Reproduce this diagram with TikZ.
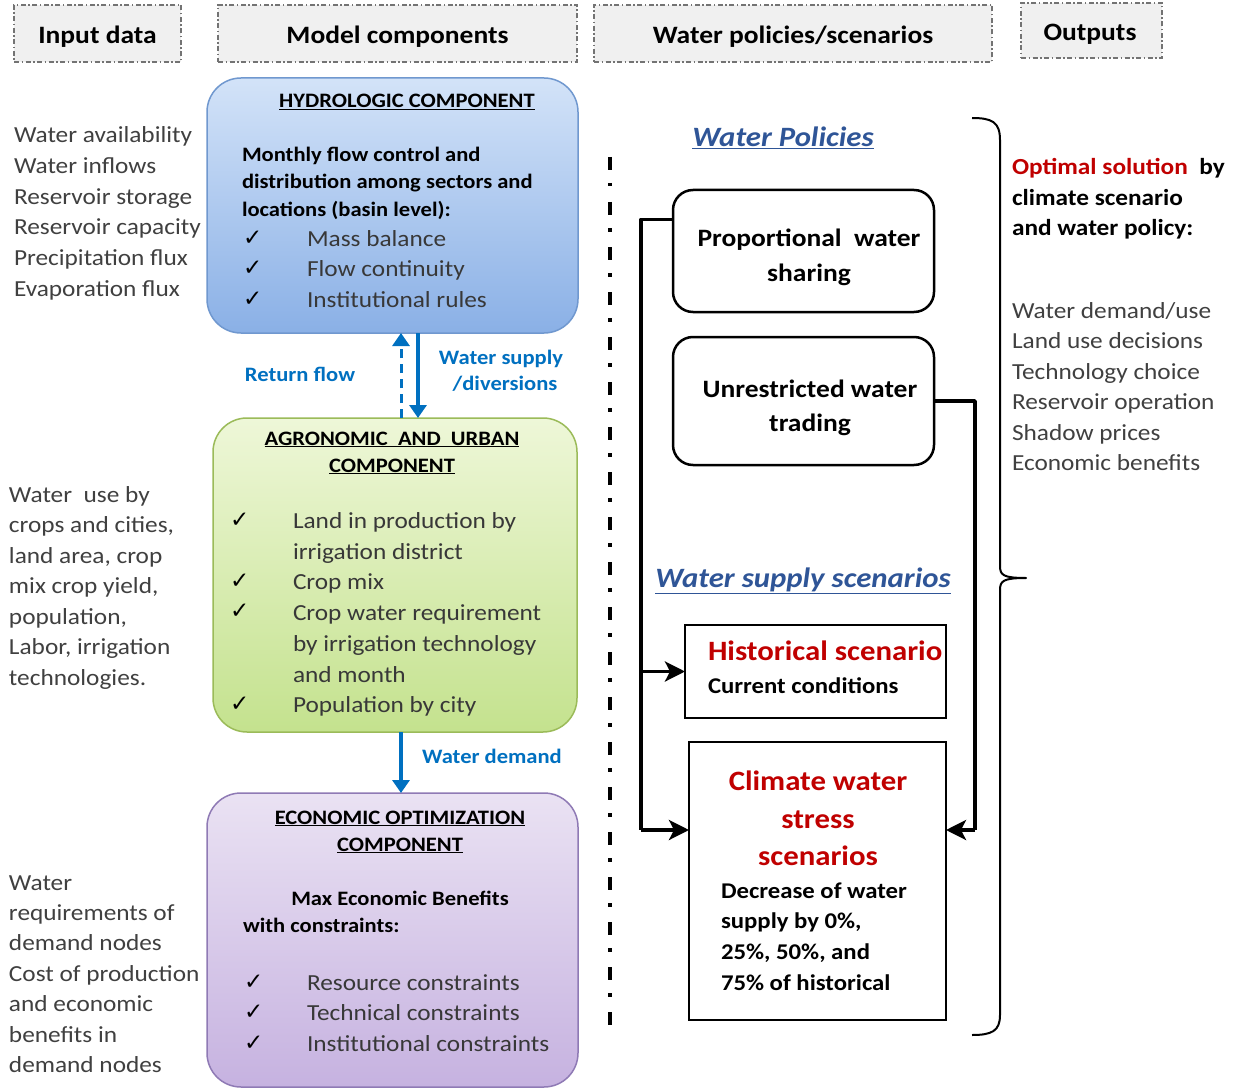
\documentclass[tikz,border=0pt]{standalone}
\usepackage{fontspec}
\setmainfont{Carlito}[FakeStretch=1.1]
\newfontfamily\chk{DejaVu Sans}
\usetikzlibrary{arrows.meta,calc}
\definecolor{txtgray}{HTML}{404040}
\definecolor{itemgray}{HTML}{383838}
\definecolor{flowblue}{HTML}{0070C0}
\definecolor{titleblue}{HTML}{2F5597}
\definecolor{scred}{HTML}{C00000}
\definecolor{hydtop}{HTML}{D3E3F8}
\definecolor{hydbot}{HTML}{8AB0E6}
\definecolor{hydline}{HTML}{7098CF}
\definecolor{agrtop}{HTML}{EEF7D8}
\definecolor{agrbot}{HTML}{C4E28E}
\definecolor{agrline}{HTML}{9BBB59}
\definecolor{ecotop}{HTML}{EAE2F3}
\definecolor{ecobot}{HTML}{C6B2E0}
\definecolor{ecoline}{HTML}{8F7AB5}
\newcommand\fsz[1]{\fontsize{#1}{#1}\selectfont}
\tikzset{
  hdrbox/.style={draw=black!55, line width=1.3pt, dash pattern=on 5pt off 2.5pt on 1.5pt off 2.5pt, fill=black!6},
  hdrtxt/.style={font=\fsz{25}\bfseries, anchor=base},
  lc/.style={font=\fsz{23}, text=txtgray, anchor=base west},
  itm/.style={font=\fsz{23}, text=itemgray, anchor=base west},
  bodyb/.style={font=\fsz{20.5}\bfseries, anchor=base west},
  ttl/.style={font=\fsz{20.5}\bfseries, anchor=base},
  ck/.style={font=\chk\fsz{23}, anchor=base west},
  flowlbl/.style={font=\fsz{20.5}\bfseries, text=flowblue, anchor=base},
  bluearrow/.style={draw=flowblue, line width=4.5pt, -{Triangle[length=13pt,width=17pt]}},
  polbox/.style={draw=black, line width=2.5pt, rounded corners=20pt},
  scbox/.style={draw=black, line width=2pt},
  conn/.style={draw=black, line width=3.5pt},
  carrow/.style={conn, -{Stealth[length=20pt,width=20pt,inset=5pt]}},
  bigb/.style={font=\fsz{25}\bfseries, anchor=base},
  sec/.style={font=\fsz{28}\bfseries\itshape, text=titleblue, anchor=base},
  outb/.style={font=\fsz{23}\bfseries, anchor=base west},
  redb/.style={font=\fsz{28}\bfseries, text=scred, anchor=base},
  scb/.style={font=\fsz{22.5}\bfseries, anchor=base west}
}
\begin{document}
\begin{tikzpicture}[x=1pt,y=-1pt, every node/.style={inner sep=0pt, outer sep=0pt}]
\useasboundingbox[fill=white] (0,0) rectangle (1235,1089);

% headers
\node[hdrbox, minimum width=167pt, minimum height=57pt] (hIn) at (97.5,33.5) {};
\node[hdrbox, minimum width=359pt, minimum height=57pt] (hMod) at (397.5,33.5) {};
\node[hdrbox, minimum width=398pt, minimum height=57pt] (hPol) at (793,33.5) {};
\node[hdrbox, minimum width=141pt, minimum height=55pt] (hOut) at (1091.5,30.5) {};
\node[hdrtxt] (tIn) at (97.5,43.5) {Input data};
\node[hdrtxt] (tMod) at (397.5,43.5) {Model components};
\node[hdrtxt] (tPol) at (793,43.5) {Water policies/scenarios};
\node[hdrtxt] (tOut) at (1090,40.5) {Outputs};

% input data columns
\foreach \t [count=\i from 0] in {Water availability, Water inflows, Reservoir storage, Reservoir capacity, Precipitation flux, Evaporation flux}
  \node[lc] (inA\i) at (14, 143+\i*30.6) {\t};
\foreach \t [count=\i from 0] in {Water\ \ use by, {crops and cities,}, {land area, crop}, {mix crop yield,}, {population,}, {Labor, irrigation}, technologies.}
  \node[lc] (inB\i) at (9, 502+\i*30.5) {\t};
\foreach \t [count=\i from 0] in {Water, requirements of, demand nodes, Cost of production, and economic, benefits in, demand nodes}
  \node[lc] (inC\i) at (9, 890+\i*30.4) {\t};

% hydrologic component
\node[draw=hydline, line width=1.5pt, rounded corners=34pt, top color=hydtop, bottom color=hydbot, minimum width=371pt, minimum height=255pt] (hyd) at (392.5,205.5) {};
\node[ttl] (hydT) at (407,108) {\underline{HYDROLOGIC COMPONENT}};
\node[bodyb] (hydM1) at (242,162) {Monthly flow control and};
\node[bodyb] (hydM2) at (242,189) {distribution among sectors and};
\node[bodyb] (hydM3) at (242,216) {locations (basin level):};
\foreach \t [count=\i from 0] in {Mass balance, Flow continuity, Institutional rules}{
  \node[ck] (hydC\i) at (243, 245+\i*30.5) {✓};
  \node[itm] (hydI\i) at (307, 246+\i*30.5) {\t};
}

% agronomic component
\node[draw=agrline, line width=1.5pt, rounded corners=34pt, top color=agrtop, bottom color=agrbot, minimum width=364pt, minimum height=314pt] (agr) at (395,575) {};
\node[ttl] (agrT1) at (392,445) {\underline{AGRONOMIC\ \ AND\ \ URBAN}};
\node[ttl] (agrT2) at (392,472) {\underline{COMPONENT}};
\foreach \y [count=\i from 0] in {527,588,618,711}
  \node[ck] (agrC\i) at (230,\y) {✓};
\foreach \t [count=\i from 0] in {Land in production by, irrigation district, Crop mix, Crop water requirement, by irrigation technology, and month, Population by city}
  \node[itm] (agrI\i) at (293, 528.5+\i*30.7) {\t};

% economic component
\node[draw=ecoline, line width=1.5pt, rounded corners=34pt, top color=ecotop, bottom color=ecobot, minimum width=371pt, minimum height=294pt] (eco) at (392.5,940) {};
\node[ttl] (ecoT1) at (400,824) {\underline{ECONOMIC OPTIMIZATION}};
\node[ttl] (ecoT2) at (400,851) {\underline{COMPONENT}};
\node[ttl] (ecoM1) at (400,905) {Max Economic Benefits};
\node[bodyb] (ecoM2) at (243,932) {with constraints:};
\foreach \t [count=\i from 0] in {Resource constraints, Technical constraints, Institutional constraints}{
  \node[ck] (ecoC\i) at (244, 989+\i*30.5) {✓};
  \node[itm] (ecoI\i) at (307, 990+\i*30.5) {\t};
}

% flows between components
\draw[bluearrow] (418,0 |- hyd.south) -- (418,0 |- agr.north);
\draw[bluearrow, line width=3pt, dash pattern=on 9pt off 6pt] (401,0 |- agr.north) -- (401,0 |- hyd.south);
\draw[bluearrow] (401,0 |- agr.south) -- (401,0 |- eco.north);
\node[flowlbl] (lRet) at (300,381) {Return flow};
\node[flowlbl] (lSup1) at (501,364) {Water supply};
\node[flowlbl] (lSup2) at (505,390) {/diversions};
\node[flowlbl] (lDem) at (492,763) {Water demand};

% separator
\draw[line width=4pt, dash pattern=on 13pt off 13pt on 3.5pt off 15.5pt] (610,157) -- (610,1025);

% water policies
\node[sec] (secPol) at (783,147) {\underline{Water Policies}};
\node[polbox, minimum width=261pt, minimum height=122pt] (prop) at (803.5,251) {};
\node[bigb] (propT1) at (809,246.5) {Proportional\ \ water};
\node[bigb] (propT2) at (809,281.5) {sharing};
\node[polbox, minimum width=261pt, minimum height=128pt] (unr) at (803.5,401) {};
\node[bigb] (unrT1) at (810,397) {Unrestricted water};
\node[bigb] (unrT2) at (810,431) {trading};

% water supply scenarios
\node[sec] (secSup) at (803,587) {\underline{Water supply scenarios}};
\node[scbox, minimum width=261pt, minimum height=93pt] (hist) at (815.5,671.5) {};
\node[redb, anchor=base west] (histT) at (708,660) {Historical scenario};
\node[scb] (histS) at (708,693) {Current conditions};
\node[scbox, minimum width=257pt, minimum height=278pt] (clim) at (817.5,881) {};
\node[redb] (climT1) at (818,790) {Climate water};
\node[redb] (climT2) at (818,828) {stress};
\node[redb] (climT3) at (818,865) {scenarios};
\foreach \t [count=\i from 0] in {Decrease of water, {supply by 0\%,}, {25\%, 50\%, and}, 75\% of historical}
  \node[scb] (climS\i) at (721, 898+\i*30.7) {\t};

% connectors
\coordinate (pa) at ($(prop.south west)!0.76!(prop.north west)$);
\coordinate (ca) at (clim.west |- 0,830);
\coordinate (cb) at (clim.east |- 0,830);
\draw[conn, line join=round] (pa) -- (641,0 |- pa) -- (641,0 |- ca);
\draw[carrow] (641,0 |- ca) -- (ca);
\draw[carrow] (641,0 |- hist.west) -- (hist.west);
\draw[conn, line join=round] (unr.east) -- (975,0 |- unr.east) -- (975,0 |- cb);
\draw[carrow] (975,0 |- cb) -- (cb);

% brace
\draw[line width=2pt, line join=round] (972,118) .. controls (992,118) and (1000,122) .. (1000,140)
  -- (1000,566) .. controls (1000,575) and (1003,578) .. (1026,578)
  .. controls (1003,578) and (1000,581) .. (1000,590)
  -- (1000,1015) .. controls (1000,1031) and (992,1035) .. (972,1035);

% outputs
\node[outb] (o1) at (1012,175) {\textcolor{scred}{Optimal solution}\ \ by};
\node[outb] (o2) at (1012,205) {climate scenario};
\node[outb] (o3) at (1012,236) {and water policy:};
\foreach \t [count=\i from 0] in {Water demand/use, Land use decisions, Technology choice, Reservoir operation, Shadow prices, Economic benefits}
  \node[lc] (out\i) at (1012, 318+\i*30.5) {\t};
\end{tikzpicture}
\end{document}
